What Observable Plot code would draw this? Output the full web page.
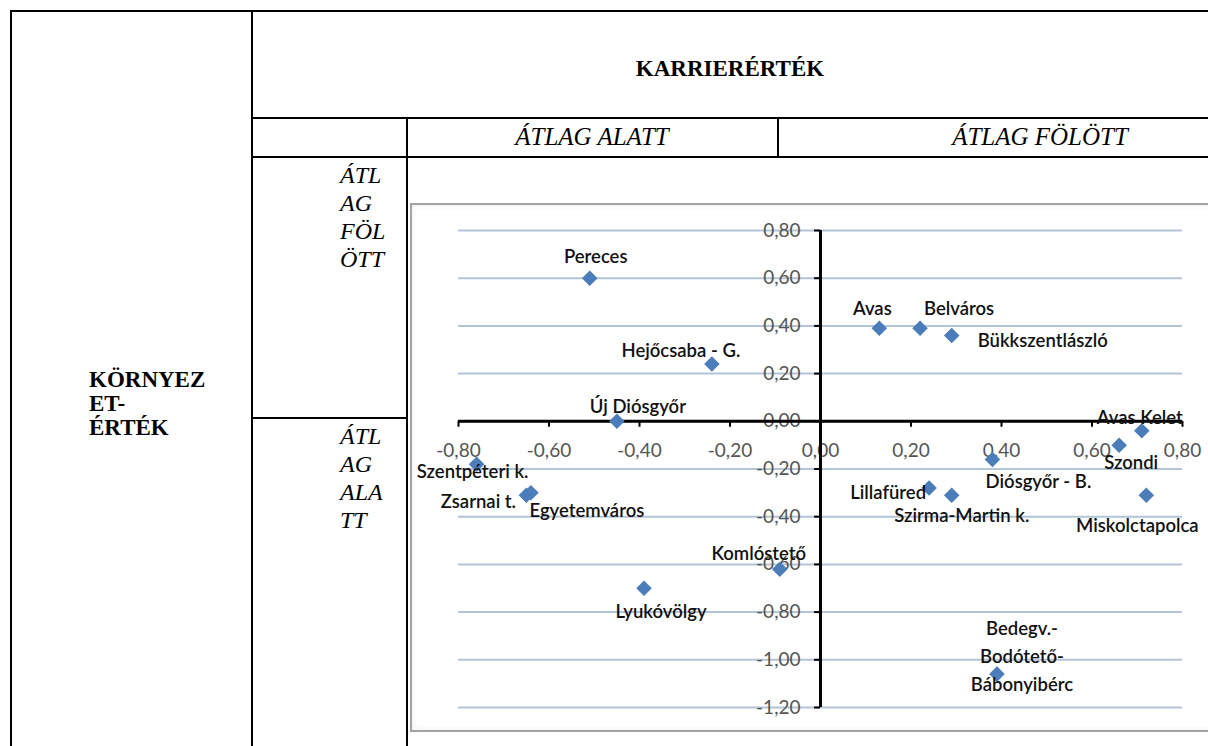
<!DOCTYPE html>
<html>
<head>
<meta charset="utf-8">
<script src="https://cdn.jsdelivr.net/npm/d3@7"></script>
<script src="https://cdn.jsdelivr.net/npm/@observablehq/plot@0.6"></script>
<style>
  html, body { margin: 0; padding: 0; background: #fff; overflow: hidden; }
  #root { position: relative; width: 1208px; height: 746px; overflow: hidden; background: #fff; }
  .ln { position: absolute; background: #000; }
  .tx { position: absolute; font-family: "Liberation Serif", "Times New Roman", serif; color: #000; white-space: nowrap; }
  .b { font-weight: bold; }
  .i { font-style: italic; }
  #frame { position: absolute; left: 410px; top: 203px; width: 830px; height: 525px;
           border: 2px solid #a3a3a3; box-shadow: inset 0 0 6px rgba(0,0,0,0.08); background: #fff; }
  #chart { position: absolute; left: 410px; top: 203px; }
</style>
</head>
<body>
<div id="root">
  <!-- table rules -->
  <div class="ln" style="left:10px;top:10px;width:1198px;height:2px"></div>
  <div class="ln" style="left:10px;top:10px;width:2px;height:736px"></div>
  <div class="ln" style="left:251px;top:10px;width:2px;height:736px"></div>
  <div class="ln" style="left:251px;top:117px;width:957px;height:2px"></div>
  <div class="ln" style="left:406px;top:117px;width:2px;height:629px"></div>
  <div class="ln" style="left:251px;top:156px;width:957px;height:2px"></div>
  <div class="ln" style="left:777px;top:117px;width:2px;height:40px"></div>
  <div class="ln" style="left:251px;top:417px;width:157px;height:2px"></div>

  <div id="frame"></div>
  <div id="chart"></div>
  <div id="texts"></div>
</div>
<script>
// ---------- data ----------
const districts = ["Pereces", "Hejőcsaba - G.", "Új Diósgyőr", "Szentpéteri k.", "Zsarnai t.", "Egyetemváros",
  "Lyukóvölgy", "Komlóstető", "Avas", "Belváros", "Bükkszentlászló", "Avas Kelet", "Szondi",
  "Diósgyőr - B.", "Lillafüred", "Szirma-Martin k.", "Miskolctapolca", "Bedegv.-\nBodótető-\nBábonyibérc"];
const karrierErtek = [-0.51, -0.24, -0.45, -0.76, -0.65, -0.64, -0.39, -0.09, 0.13, 0.22, 0.29, 0.71, 0.66,
  0.38, 0.24, 0.29, 0.72, 0.39];
const kornyezetErtek = [0.60, 0.24, 0.00, -0.18, -0.31, -0.30, -0.70, -0.62, 0.39, 0.39, 0.36, -0.04, -0.10,
  -0.16, -0.28, -0.31, -0.31, -1.06];
const xTicks = [-0.8, -0.6, -0.4, -0.2, 0, 0.2, 0.4, 0.6, 0.8];
const yTicks = [0.8, 0.6, 0.4, 0.2, 0, -0.2, -0.4, -0.6, -0.8, -1.0, -1.2];
const tableTitle = "KARRIERÉRTÉK";
const colHeaders = ["ÁTLAG ALATT", "ÁTLAG FÖLÖTT"];
const rowTitle = ["KÖRNYEZ", "ET-", "ÉRTÉK"];
const rowHeaders = [["ÁTL", "AG", "FÖL", "ÖTT"], ["ÁTL", "AG", "ALA", "TT"]];

// ---------- layout (label offsets in px) ----------
const labelOffsets = {
  "Pereces": [6, -24], "Hejőcsaba - G.": [-31, -16], "Új Diósgyőr": [21, -17], "Szentpéteri k.": [-4, 5],
  "Zsarnai t.": [-48, 4], "Egyetemváros": [56, 15], "Lyukóvölgy": [17, 21], "Komlóstető": [-21, -18],
  "Avas": [-7, -22], "Belváros": [39, -22], "Bükkszentlászló": [91, 3], "Avas Kelet": [-2, -16],
  "Szondi": [12, 15], "Diósgyőr - B.": [46, 20], "Lillafüred": [-41, 2], "Szirma-Martin k.": [10, 18],
  "Miskolctapolca": [-9, 28], "Bedegv.-\nBodótető-\nBábonyibérc": [25, -20]
};

const points = districts.map((name, i) => ({name, x: karrierErtek[i], y: kornyezetErtek[i]}));
const fmt = v => d3.format(".2f")(v).replace(".", ",").replace("−", "-");

const labelMarks = points.map(p => Plot.text([p], {
  x: "x", y: "y", text: "name",
  dx: labelOffsets[p.name][0], dy: labelOffsets[p.name][1],
  fontSize: 18.5, fontWeight: 600, fill: "#111", lineHeight: 1.5, textAnchor: "middle"
}));

const chart = Plot.plot({
  width: 798, height: 527,
  marginLeft: 48, marginRight: 26, marginTop: 27, marginBottom: 23,
  x: {domain: [-0.8, 0.8], axis: null},
  y: {domain: [-1.2, 0.8], axis: null},
  style: {background: "transparent", fontFamily: "Lato, 'Open Sans', sans-serif", overflow: "visible"},
  marks: [
    Plot.ruleY(yTicks, {y: d => d, x1: -0.8, x2: 0.8, stroke: "#b3c4d8", strokeWidth: 2}),
    Plot.text(yTicks, {x: 0, y: d => d, text: d => fmt(d), dx: -20, textAnchor: "end", fontSize: 19, fill: "#555"}),
    Plot.text(xTicks, {x: d => d, y: 0, text: d => fmt(d), dy: 30, textAnchor: "middle", fontSize: 19, fill: "#555"}),
    Plot.ruleY([0], {x1: -0.8, x2: 0.8, stroke: "#000", strokeWidth: 3}),
    Plot.ruleX([0], {y1: -1.2, y2: 0.8, stroke: "#000", strokeWidth: 3}),
    Plot.ruleX(xTicks, {x: d => d, y1: 0, y2: -0.025, stroke: "#000", strokeWidth: 2}),
    Plot.ruleY(yTicks, {y: d => d, x1: 0, x2: -0.013, stroke: "#000", strokeWidth: 2}),
    Plot.dot(points, {x: "x", y: "y", symbol: "diamond2", r: 7, fill: "#4a7dba", stroke: "none"}),
    ...labelMarks
  ]
});
document.getElementById("chart").appendChild(chart);

// ---------- table texts ----------
const texts = document.getElementById("texts");
function addText(str, cls, left, centerY, size, lh, anchor) {
  const d = document.createElement("div");
  d.className = "tx " + cls;
  d.style.fontSize = size + "px";
  d.style.lineHeight = lh + "px";
  d.style.top = (centerY - lh / 2) + "px";
  if (anchor === "middle") { d.style.left = (left - 300) + "px"; d.style.width = "600px"; d.style.textAlign = "center"; }
  else d.style.left = left + "px";
  d.textContent = str;
  texts.appendChild(d);
}
addText(tableTitle, "b", 730, 69, 23, 30, "middle");
addText(colHeaders[0], "i", 592, 137, 25, 30, "middle");
addText(colHeaders[1], "i", 1040, 137, 25, 30, "middle");
rowTitle.forEach((s, i) => addText(s, "b", 89, 380 + i * 24, 23, 24));
rowHeaders[0].forEach((s, i) => addText(s, "i", 340, 175 + i * 28, 24, 28));
rowHeaders[1].forEach((s, i) => addText(s, "i", 340, 436 + i * 28, 24, 28));
</script>
</body>
</html>
